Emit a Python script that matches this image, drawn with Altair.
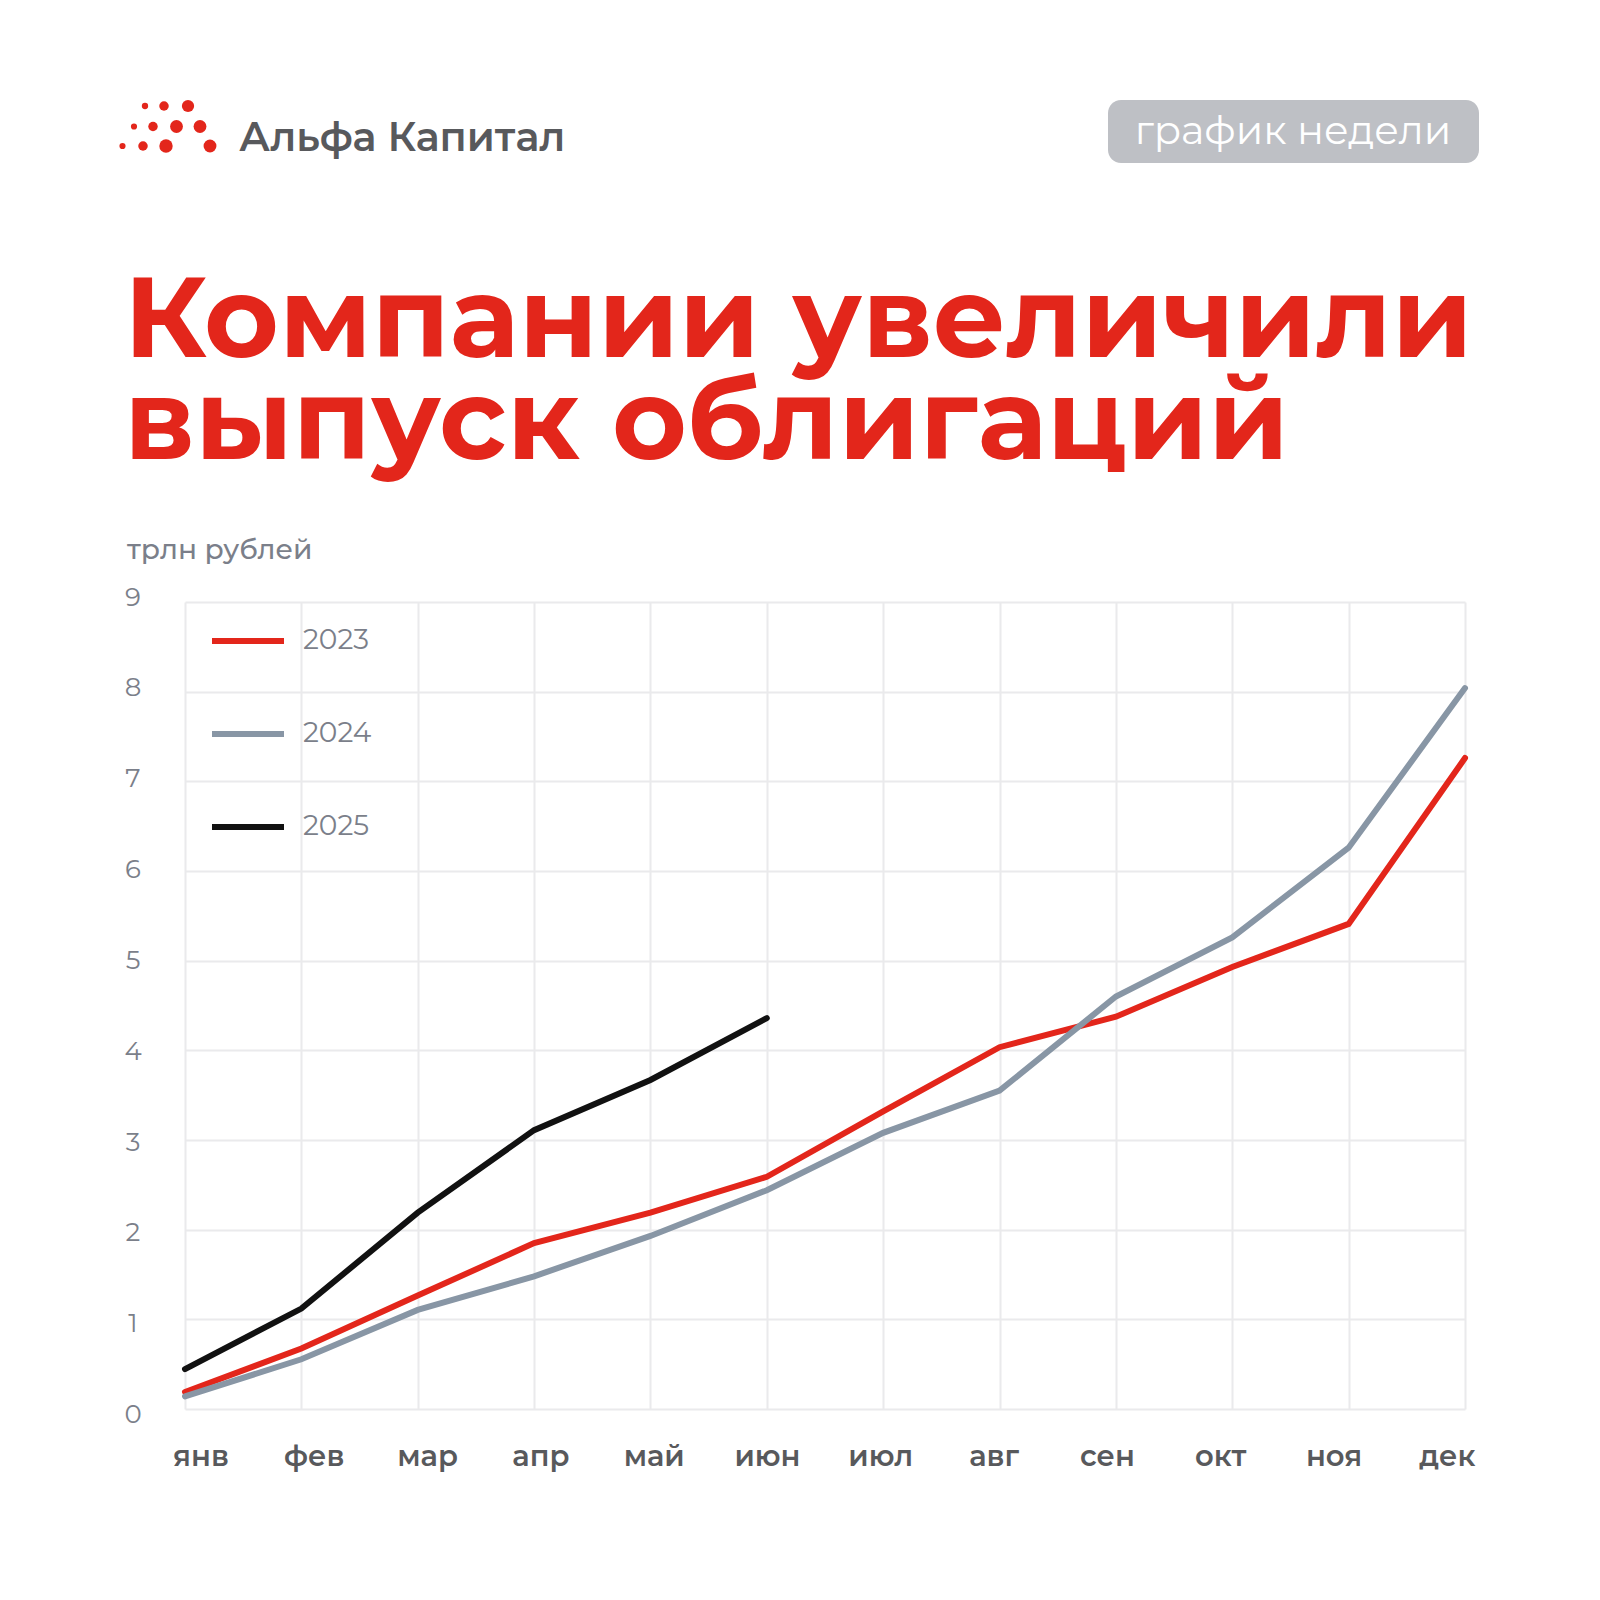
import altair as alt
import pandas as pd

# ---------------- data ----------------
MONTHS = ["янв", "фев", "мар", "апр", "май", "июн", "июл", "авг", "сен", "окт", "ноя", "дек"]
SERIES = ["2023", "2024", "2025"]
Y2023 = [0.19, 0.675, 1.265, 1.85, 2.19, 2.59, 3.32, 4.035, 4.375, 4.93, 5.41, 7.26]
Y2024 = [0.14, 0.555, 1.105, 1.48, 1.93, 2.44, 3.08, 3.55, 4.60, 5.26, 6.26, 8.04]
Y2025 = [0.445, 1.12, 2.19, 3.11, 3.67, 4.36]
Y_TICKS = [0, 1, 2, 3, 4, 5, 6, 7, 8, 9]

TITLE_1 = "Компании увеличили"
TITLE_2 = "выпуск облигаций"
UNIT = "трлн рублей"
BRAND = "Альфа Капитал"
BADGE = "график недели"

# ---------------- style ----------------
FONT = "Montserrat, Inter, Noto Sans, sans-serif"
RED = "#E3261B"
COLORS = [RED, "#8896A5", "#111111"]
GRID = "#EAEAEC"
GRAYTXT = "#7B7F8A"
DARKTXT = "#58595C"
W, H = 1280, 807

rows = []
for s, vals in zip(SERIES, [Y2023, Y2024, Y2025]):
    for m, v in zip(MONTHS, vals):
        rows.append({"month": m, "series": s, "value": v})
df = pd.DataFrame(rows)

one = pd.DataFrame({"k": [0]})

lines = alt.Chart(df).mark_line(strokeWidth=6, strokeCap="round").encode(
    x=alt.X("month:O", sort=MONTHS,
            scale=alt.Scale(type="point", padding=0),
            axis=alt.Axis(labels=False, ticks=False, domain=False, grid=True,
                          gridColor=GRID, gridWidth=2, title=None)),
    y=alt.Y("value:Q", scale=alt.Scale(domain=[0, 9], nice=False),
            axis=alt.Axis(values=Y_TICKS, labels=False, ticks=False, domain=False,
                          grid=True, gridColor=GRID, gridWidth=2, title=None)),
    color=alt.Color("series:N", scale=alt.Scale(domain=SERIES, range=COLORS),
                    legend=alt.Legend(title=None, orient="none", legendX=24, legendY=0,
                                      symbolType="stroke", symbolSize=5184,
                                      symbolStrokeWidth=6, labelFontSize=28,
                                      labelColor=GRAYTXT, labelFont=FONT,
                                      labelOffset=16, rowPadding=40, padding=0)),
)

ylab = alt.Chart(pd.DataFrame({"v": Y_TICKS})).mark_text(
    font=FONT, fontSize=26, color=GRAYTXT, align="center", baseline="middle"
).encode(
    x=alt.value(-52),
    y=alt.Y("v:Q", scale=alt.Scale(domain=[0.066, 8.951], nice=False, zero=False), axis=None),
    text=alt.Text("v:Q", format="d"),
)

xlab = alt.Chart(pd.DataFrame({"m": MONTHS, "i": list(range(len(MONTHS)))})).mark_text(
    font=FONT, fontSize=29, fontWeight=600, color=DARKTXT, align="center", baseline="middle"
).encode(
    x=alt.X("i:Q", scale=alt.Scale(domain=[-0.141, 11.156], nice=False, zero=False), axis=None),
    y=alt.value(855),
    text="m:N",
)


def txt(s, x, y, size, color, weight=400, align="left"):
    return alt.Chart(pd.DataFrame({"t": [s]})).mark_text(
        font=FONT, fontSize=size, fontWeight=weight, color=color, align=align,
        baseline="alphabetic"
    ).encode(x=alt.value(x), y=alt.value(y), text="t:N")


title1 = txt(TITLE_1, -61, -245, 114, RED, 700)
title2 = txt(TITLE_2, -61, -143, 114, RED, 700)
unit = txt(UNIT, -58, -43, 28, GRAYTXT, 500)
brand = txt(BRAND, 54, -451, 40, DARKTXT, 600)

badge_rect = alt.Chart(one).mark_rect(color="#BEC0C5", cornerRadius=13).encode(
    x=alt.value(923), x2=alt.value(1294), y=alt.value(-502), y2=alt.value(-439)
)
badge_txt = txt(BADGE, 1108, -458, 40, "#FFFFFF", 400, "center")

# logo dots (decoration): (x, y, size) in view pixels
LOGO = [(-40, -496, 40), (-21, -496, 90), (3, -496, 150),
        (-51, -475.5, 38), (-32, -475.5, 90), (-8.5, -475.5, 165), (15, -475.5, 165),
        (-62.5, -456, 38), (-42, -456, 90), (-19, -456, 180), (25, -456, 165)]
dots = [alt.Chart(one).mark_circle(color=RED, opacity=1, size=s).encode(
    x=alt.value(x), y=alt.value(y)) for (x, y, s) in LOGO]

chart = alt.layer(
    lines, ylab, xlab, title1, title2, unit, brand, badge_rect, badge_txt, *dots
).resolve_scale(
    x="independent", y="independent"
).properties(
    width=W, height=H,
    autosize=alt.AutoSizeParams(type="none"),
    padding={"left": 177, "top": 594, "right": 127, "bottom": 183},
    background="white",
).configure_view(stroke=None)

chart.save("out.html", embed_options={"renderer": "svg", "actions": False})
